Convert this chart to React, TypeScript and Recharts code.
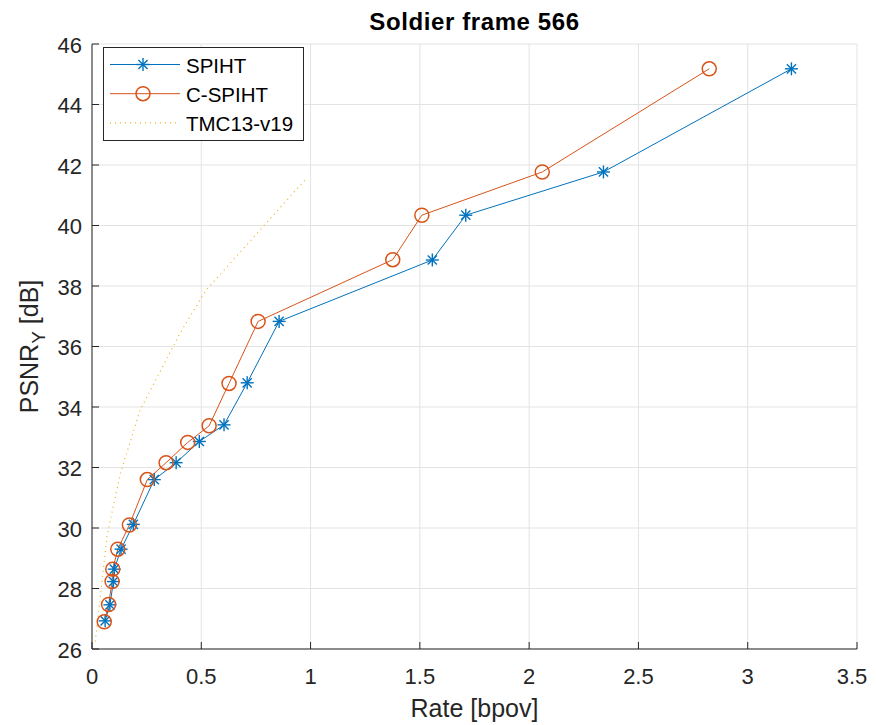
import React from "react";
import { LineChart, Line, XAxis, YAxis, CartesianGrid } from "recharts";

const rateSpiht = [0.06, 0.082, 0.098, 0.102, 0.133, 0.189, 0.285, 0.385, 0.491, 0.604, 0.71, 0.856, 1.557, 1.71, 2.34, 3.2];
const psnrSpiht = [26.93, 27.46, 28.23, 28.64, 29.3, 30.12, 31.6, 32.16, 32.86, 33.41, 34.8, 36.83, 38.86, 40.34, 41.77, 45.18];
const rateCspiht = [0.056, 0.076, 0.092, 0.095, 0.118, 0.171, 0.253, 0.339, 0.438, 0.536, 0.627, 0.76, 1.376, 1.509, 2.06, 2.824];
const psnrCspiht = [26.9, 27.47, 28.23, 28.64, 29.3, 30.1, 31.6, 32.16, 32.83, 33.38, 34.78, 36.83, 38.87, 40.34, 41.77, 45.18];
const rateTmc = [0.015, 0.07, 0.13, 0.22, 0.4, 0.52, 0.98];
const psnrTmc = [26.25, 29.8, 31.8, 33.9, 36.4, 37.85, 41.55];

const xTicks = [0, 0.5, 1, 1.5, 2, 2.5, 3, 3.5];
const yTicks = [26, 28, 30, 32, 34, 36, 38, 40, 42, 44, 46];
const seriesNames = ["SPIHT", "C-SPIHT", "TMC13-v19"];

const BLUE = "#0072BD";
const ORANGE = "#D95319";
const YELLOW = "#EDB120";
const TXT = "#262626";
const FONT = "'Liberation Sans', Arial, sans-serif";
const W = 860;
const H = 717;

const toPts = (xs: number[], ys: number[]) => xs.map((x, i) => ({ x, y: ys[i] }));
const spiht = toPts(rateSpiht, psnrSpiht);
const cspiht = toPts(rateCspiht, psnrCspiht);
const tmc = toPts(rateTmc, psnrTmc);

const Asterisk = ({ cx, cy, r = 6.5 }: any) => {
  const d = r * 0.707;
  return (
    <g stroke={BLUE} strokeWidth={1.4}>
      <line x1={cx} y1={cy - r} x2={cx} y2={cy + r} />
      <line x1={cx - r} y1={cy} x2={cx + r} y2={cy} />
      <line x1={cx - d} y1={cy - d} x2={cx + d} y2={cy + d} />
      <line x1={cx - d} y1={cy + d} x2={cx + d} y2={cy - d} />
    </g>
  );
};

const Ring = ({ cx, cy }: any) => (
  <circle cx={cx} cy={cy} r={7} fill="none" stroke={ORANGE} strokeWidth={1.5} />
);

const YTick = (props: any) => {
  const { x, y, payload } = props;
  const ax = x + 10;
  return (
    <g>
      <line x1={ax} y1={y} x2={ax + 7} y2={y} stroke={TXT} strokeWidth={1} />
      <text x={x} y={y + 1} textAnchor="end" dominantBaseline="central" fontSize={22} fill={TXT} fontFamily={FONT}>
        {payload.value}
      </text>
    </g>
  );
};

const XTick = (props: any) => {
  const { x, y, payload } = props;
  const ay = y - 10;
  const tx = Math.min(x, W - 16);
  return (
    <g>
      <line x1={x} y1={ay} x2={x} y2={ay - 7} stroke={TXT} strokeWidth={1} />
      <text x={tx} y={ay + 27} textAnchor="middle" dominantBaseline="central" fontSize={22} fill={TXT} fontFamily={FONT}>
        {payload.value}
      </text>
    </g>
  );
};

const LegendBox = () => (
  <div
    style={{
      position: "absolute",
      left: 94.5,
      top: 39,
      width: 201,
      height: 94,
      border: "1px solid #262626",
      background: "#fff",
      boxSizing: "border-box",
    }}
  >
    <svg width={199} height={92} style={{ display: "block" }}>
      {[0, 1, 2].map((i) => {
        const cy = 16.5 + i * 29.2;
        return (
          <g key={i}>
            {i === 0 && (
              <>
                <line x1={6} y1={cy} x2={76} y2={cy} stroke={BLUE} strokeWidth={1} />
                <Asterisk cx={39} cy={cy} />
              </>
            )}
            {i === 1 && (
              <>
                <line x1={6} y1={cy} x2={76} y2={cy} stroke={ORANGE} strokeWidth={1} />
                <Ring cx={39} cy={cy} />
              </>
            )}
            {i === 2 && (
              <line x1={6} y1={cy} x2={76} y2={cy} stroke={YELLOW} strokeWidth={1.2} strokeDasharray="1 4" />
            )}
            <text x={82} y={cy + 1} dominantBaseline="central" fontSize={20.5} fill="#000" fontFamily={FONT}>
              {seriesNames[i]}
            </text>
          </g>
        );
      })}
    </svg>
  </div>
);

const YLabel = (props: any) => {
  const { viewBox } = props;
  const cx = 30;
  const cy = viewBox.y + viewBox.height / 2;
  return (
    <text transform={`translate(${cx},${cy}) rotate(-90)`} textAnchor="middle" fontSize={25} fill={TXT} fontFamily={FONT}>
      PSNR
      <tspan fontSize={19} dy={7}>Y</tspan>
      <tspan dy={-7}> [dB]</tspan>
    </text>
  );
};

const XLabel = (props: any) => {
  const { viewBox } = props;
  const cx = viewBox.x + viewBox.width / 2;
  return (
    <text x={cx} y={709} textAnchor="middle" fontSize={25} fill={TXT} fontFamily={FONT}>
      Rate [bpov]
    </text>
  );
};

export default function App() {
  return (
    <div style={{ position: "relative", width: W, height: H, fontFamily: FONT }}>
      <LineChart width={W} height={H} margin={{ top: 36, right: 11, bottom: 26, left: 34 }}>
        <CartesianGrid stroke="#e3e3e3" strokeWidth={1} />
        <XAxis
          type="number"
          dataKey="x"
          domain={[0, 3.5]}
          ticks={xTicks}
          interval={0}
          tickSize={0}
          tickMargin={10}
          tick={<XTick />}
          axisLine={{ stroke: TXT, strokeWidth: 1 }}
          tickLine={false}
          height={50}
          label={<XLabel />}
          allowDataOverflow
        />
        <YAxis
          type="number"
          dataKey="y"
          domain={[26, 46]}
          ticks={yTicks}
          interval={0}
          tickSize={0}
          tickMargin={10}
          tick={<YTick />}
          axisLine={{ stroke: TXT, strokeWidth: 1 }}
          tickLine={false}
          width={50}
          label={<YLabel />}
          allowDataOverflow
        />
        <Line
          data={tmc}
          dataKey="y"
          name={seriesNames[2]}
          stroke={YELLOW}
          strokeWidth={1.2}
          strokeDasharray="1 4"
          dot={false}
          activeDot={false}
          isAnimationActive={false}
        />
        <Line
          data={spiht}
          dataKey="y"
          name={seriesNames[0]}
          stroke={BLUE}
          strokeWidth={1}
          dot={(p: any) => <Asterisk key={`s${p.index}`} cx={p.cx} cy={p.cy} />}
          activeDot={false}
          isAnimationActive={false}
        />
        <Line
          data={cspiht}
          dataKey="y"
          name={seriesNames[1]}
          stroke={ORANGE}
          strokeWidth={1}
          dot={(p: any) => <Ring key={`c${p.index}`} cx={p.cx} cy={p.cy} />}
          activeDot={false}
          isAnimationActive={false}
        />
      </LineChart>
      <div
        style={{
          position: "absolute",
          left: 84,
          width: 765,
          top: 0,
          textAlign: "center",
          fontWeight: "bold",
          fontSize: 24,
          letterSpacing: 0.6,
          color: "#000",
        }}
      >
        Soldier frame 566
      </div>
      <LegendBox />
    </div>
  );
}
